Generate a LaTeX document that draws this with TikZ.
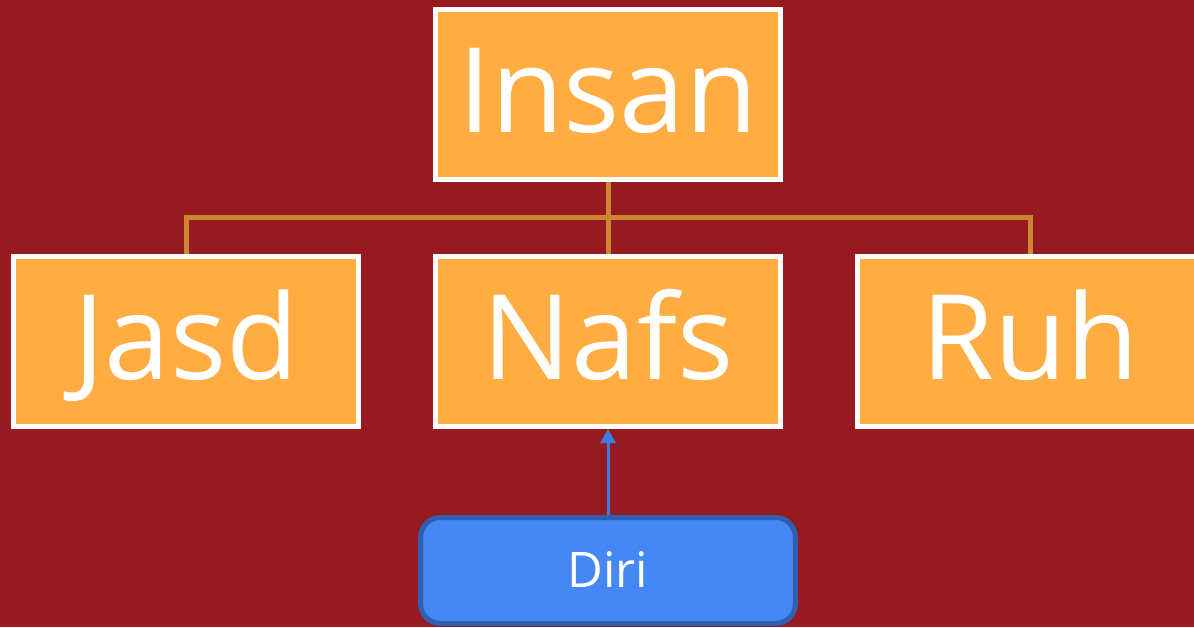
\documentclass[tikz,border=0pt]{standalone}
\usepackage{fontspec}
\setmainfont{Open Sans}
\usetikzlibrary{arrows.meta}
\definecolor{bgred}{HTML}{971A21}
\definecolor{boxorange}{HTML}{FFAC42}
\definecolor{connorange}{HTML}{CC8530}
\definecolor{diriblue}{HTML}{4487F5}
\definecolor{diriedge}{HTML}{2F5FAE}
\definecolor{arrowblue}{HTML}{3B7DE0}
\tikzset{
  bigbox/.style={draw=white, line width=5pt, fill=boxorange, text=white,
    minimum width=345pt, minimum height=170pt, inner sep=0pt,
    font=\fontsize{118}{118}\selectfont, text height=84pt, text depth=9pt},
  diribox/.style={draw=diriedge, line width=5pt, fill=diriblue, text=white,
    rounded corners=20pt, minimum width=375pt, minimum height=106pt, inner sep=0pt,
    font=\fontsize{49}{49}\selectfont, text height=35pt, text depth=1pt},
  conn/.style={draw=connorange, line width=5pt},
  arr/.style={draw=arrowblue, line width=3pt, -{Triangle[width=15pt,length=14pt]}}
}
\begin{document}
\begin{tikzpicture}[x=1pt,y=-1pt]
\useasboundingbox (0,0) rectangle (1194,627);
\clip (0,0) rectangle (1194,627);
\fill[bgred] (0,0) rectangle (1194,627);
\node[bigbox] (insan) at (608,94.5) {Insan};
\node[bigbox] (jasd) at (186,341.5) {Jasd};
\node[bigbox] (nafs) at (608,341.5) {Nafs};
\node[bigbox] (ruh) at (1030,341.5) {Ruh};
\node[diribox] (diri) at (608,570.5) {Diri};
\coordinate (bus) at (608,217);
\draw[conn] (insan.south) -- (bus);
\draw[conn] (bus) -- (nafs.north);
\draw[conn] (jasd.north) |- (bus);
\draw[conn] (bus) -| (ruh.north);
\draw[arr] (diri.north) -- (nafs.south);
\end{tikzpicture}
\end{document}
